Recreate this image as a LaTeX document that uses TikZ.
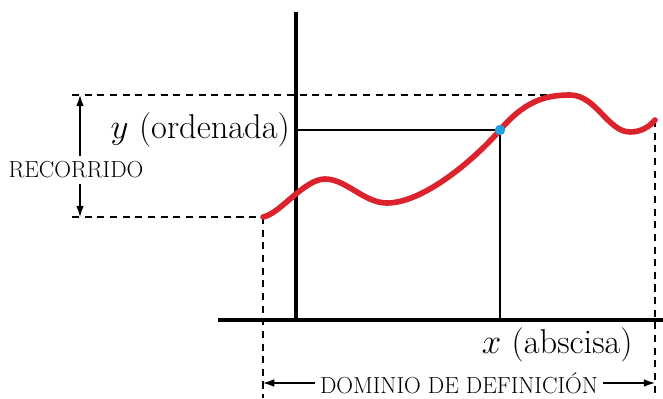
\documentclass[tikz,border=0pt]{standalone}
\usetikzlibrary{arrows.meta}
\definecolor{curvered}{RGB}{220,35,45}
\definecolor{ptblue}{RGB}{35,160,225}
\begin{document}
\begin{tikzpicture}[line width=1pt,>={Latex[length=8pt,width=5.5pt]},
  axis/.style={line width=2.2pt},
  guide/.style={dashed,line width=1.4pt,dash pattern=on 5pt off 4pt},
  bigtext/.style={font=\fontsize{24.5}{29}\selectfont},
  captext/.style={font=\fontsize{16.5}{20}\selectfont}]
\useasboundingbox (0,0) rectangle (16.575,9.95);
\coordinate (O) at (7.4,1.95); \coordinate (xl) at (5.45,1.95); \coordinate (xr) at (16.575,1.95);
\coordinate (yt) at (7.4,9.65);
\coordinate (A) at (6.575,4.525); \coordinate (B) at (16.375,6.95);
\coordinate (M) at (14.25,7.575); \coordinate (P) at (12.5,6.7);
\coordinate (rt) at (2,7.575); \coordinate (rb) at (2,4.525);
\coordinate (Ab) at (6.575,0); \coordinate (Bb) at (16.375,0);
\draw[axis] (xl)--(xr); \draw[axis] (O)--(yt);
\draw[guide] (1.8,7.575)--(M); \draw[guide] (1.8,4.525)--(A);
\draw[guide] (A)--(Ab); \draw[guide] (B)--(Bb);
\draw (O |- P)--(P)--(P |- O);
\draw[curvered,line width=4pt,line cap=round] (A)
  .. controls (7.0,4.6) and (7.6,5.475) .. (8.125,5.475)
  .. controls (8.65,5.475) and (9.1,4.875) .. (9.675,4.875)
  .. controls (10.6,4.875) and (11.9,6.0) .. (P)
  .. controls (13.1,7.4) and (13.6,7.575) .. (M)
  .. controls (14.9,7.575) and (15.2,6.65) .. (15.75,6.65)
  .. controls (16.05,6.65) and (16.25,6.8) .. (B);
\fill[ptblue] (P) circle (.13);
\node[bigtext,anchor=east] (ylab) at (7.38,6.7) {$y$ (ordenada)};
\node[bigtext,anchor=east] (xlab) at (15.95,1.325) {$x$ (abscisa)};
\node[captext] (rec) at (1.9,5.7) {RECORRIDO};
\draw[->] (rec.north -| rt)--(rt); \draw[->] (rec.south -| rb)--(rb);
\node[captext] (dom) at (11.475,0.375) {DOMINIO DE DEFINICIÓN};
\draw[->] (dom.west)--(Ab |- dom); \draw[->] (dom.east)--(Bb |- dom);
\end{tikzpicture}
\end{document}
